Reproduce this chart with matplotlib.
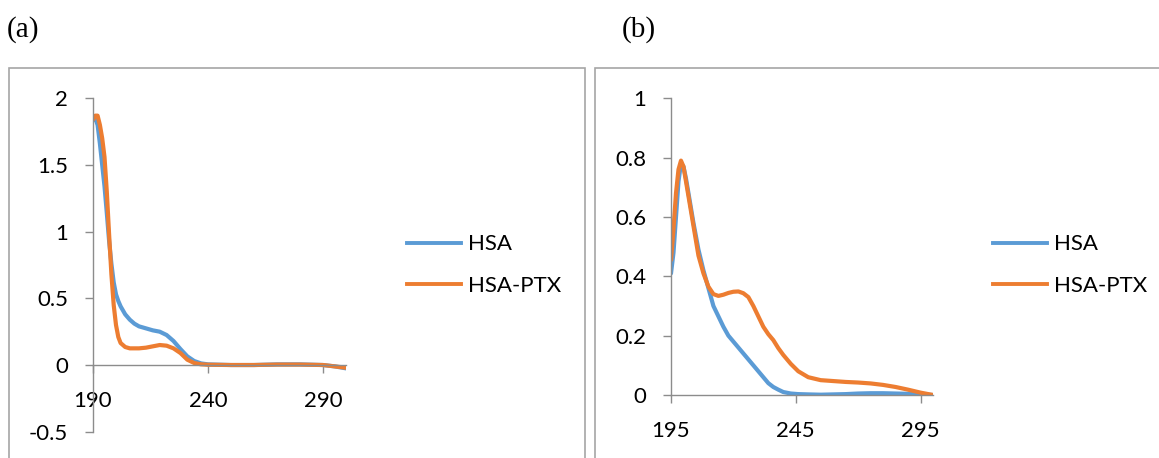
import matplotlib
matplotlib.use("Agg")
import matplotlib.pyplot as plt
from matplotlib.patches import Rectangle
from matplotlib.lines import Line2D

# ---------------- data ----------------
series_names = ["HSA", "HSA-PTX"]

# panel (a)
wl_a = [190, 191, 192, 193, 194, 195, 196, 197, 198, 199, 200, 201, 202, 204, 206, 208,
        210, 213, 216, 219, 222, 225, 228, 231, 234, 237, 240, 250, 260, 270, 280, 290, 295, 300]
hsa_a = [1.84, 1.85, 1.80, 1.66, 1.50, 1.34, 1.14, 0.93, 0.76, 0.62, 0.53, 0.48, 0.44, 0.38, 0.34, 0.31,
         0.29, 0.275, 0.26, 0.25, 0.225, 0.18, 0.12, 0.065, 0.03, 0.012, 0.005, 0.0, 0.0, 0.005, 0.005, 0.0, -0.01, -0.025]
ptx_a = [1.84, 1.87, 1.87, 1.80, 1.70, 1.56, 1.30, 0.98, 0.68, 0.45, 0.30, 0.21, 0.165, 0.135, 0.125, 0.125,
         0.125, 0.13, 0.14, 0.15, 0.145, 0.125, 0.09, 0.04, 0.015, 0.005, 0.002, 0.0, 0.0, 0.003, 0.003, 0.0, -0.01, -0.02]
xticks_a = [190, 240, 290]
yticks_a = [-0.5, 0, 0.5, 1, 1.5, 2]
yticklabels_a = ["-0.5", "0", "0.5", "1", "1.5", "2"]

# panel (b)
wl_b = [195, 196, 197, 198, 199, 200, 201, 202, 203, 204, 206, 208, 210, 212, 214, 216, 218, 220, 222,
        224, 226, 228, 230, 232, 234, 236, 238, 240, 243, 246, 250, 255, 260, 265, 270, 275, 280,
        285, 290, 295, 300]
hsa_b = [0.41, 0.48, 0.60, 0.72, 0.78, 0.77, 0.73, 0.68, 0.63, 0.58, 0.49, 0.42, 0.36, 0.30, 0.265,
         0.23, 0.20, 0.18, 0.16, 0.14, 0.12, 0.10, 0.08, 0.06, 0.04, 0.027, 0.018, 0.01, 0.005,
         0.003, 0.002, 0.001, 0.002, 0.003, 0.005, 0.006, 0.006, 0.005, 0.004, 0.002, 0.0]
ptx_b = [0.455, 0.56, 0.68, 0.76, 0.79, 0.77, 0.72, 0.67, 0.62, 0.57, 0.47, 0.41, 0.365, 0.34, 0.334,
         0.338, 0.344, 0.348, 0.349, 0.343, 0.33, 0.30, 0.265, 0.23, 0.205, 0.185, 0.158, 0.135,
         0.105, 0.08, 0.06, 0.05, 0.047, 0.044, 0.042, 0.039, 0.034, 0.027, 0.018, 0.008, 0.0]
xticks_b = [195, 245, 295]
yticks_b = [0, 0.2, 0.4, 0.6, 0.8, 1]
yticklabels_b = ["0", "0.2", "0.4", "0.6", "0.8", "1"]

panel_labels = ["(a)", "(b)"]

# ---------------- style ----------------
plt.rcParams['font.family'] = ['Lato', 'DejaVu Sans']
BLUE = "#5B9BD5"
ORANGE = "#ED7D31"
AXC = "#8C8C8C"
FS = 16
W, H = 1159, 458
fig = plt.figure(figsize=(W / 100, H / 100), dpi=100)


def fx(px):
    return px / W


def fy(py):
    return 1 - py / H


# panel boxes
fig.patches.append(Rectangle((fx(9), fy(470)), fx(585) - fx(9), fy(68) - fy(470),
                             transform=fig.transFigure, fill=False, ec="#A6A6A6", lw=1.2))
fig.patches.append(Rectangle((fx(595), fy(470)), fx(1200) - fx(595), fy(68) - fy(470),
                             transform=fig.transFigure, fill=False, ec="#A6A6A6", lw=1.2))

fig.text(fx(7), fy(30), panel_labels[0], family="Liberation Serif", fontsize=21, va="center", ha="left")
fig.text(fx(622), fy(30), panel_labels[1], family="Liberation Serif", fontsize=21, va="center", ha="left")


def style_axes(ax, xticks, yticks, yticklabels):
    for s in ["top", "right"]:
        ax.spines[s].set_visible(False)
    ax.spines["left"].set_color(AXC)
    ax.spines["bottom"].set_color(AXC)
    ax.spines["left"].set_linewidth(1)
    ax.spines["bottom"].set_linewidth(1)
    ax.spines["bottom"].set_position(("data", 0))
    ax.set_xticks(xticks)
    ax.set_xticklabels([str(t) for t in xticks])
    ax.set_yticks(yticks)
    ax.set_yticklabels(yticklabels)
    ax.tick_params(axis="both", direction="out", length=6, width=1, color=AXC, labelsize=FS)
    ax.tick_params(axis="x", pad=13)
    ax.tick_params(axis="y", pad=12)
    ax.patch.set_alpha(0)


# panel (a)
axa = fig.add_axes([fx(93), fy(431.7), fx(346) - fx(93), fy(98.3) - fy(431.7)])
axa.plot(wl_a, hsa_a, color=BLUE, lw=3, solid_capstyle="round", solid_joinstyle="round")
axa.plot(wl_a, ptx_a, color=ORANGE, lw=3, solid_capstyle="round", solid_joinstyle="round")
axa.set_xlim(190, 300)
axa.set_ylim(-0.5, 2)
style_axes(axa, xticks_a, yticks_a, yticklabels_a)

# panel (b)
axb = fig.add_axes([fx(671), fy(395), fx(933) - fx(671), fy(98.3) - fy(395)])
axb.plot(wl_b, hsa_b, color=BLUE, lw=3, solid_capstyle="round", solid_joinstyle="round")
axb.plot(wl_b, ptx_b, color=ORANGE, lw=3, solid_capstyle="round", solid_joinstyle="round")
axb.set_xlim(195, 300)
axb.set_ylim(0, 1)
style_axes(axb, xticks_b, yticks_b, yticklabels_b)

handles = [Line2D([], [], color=BLUE, lw=2.8), Line2D([], [], color=ORANGE, lw=2.8)]
for xl in (407, 993):
    fig.legend(handles, series_names, loc="center left", bbox_to_anchor=(fx(xl), fy(265)),
               frameon=False, fontsize=FS, handlelength=2.45, handletextpad=0.3,
               labelspacing=0.95, borderpad=0, borderaxespad=0)

fig.savefig("out.png", dpi=100)
